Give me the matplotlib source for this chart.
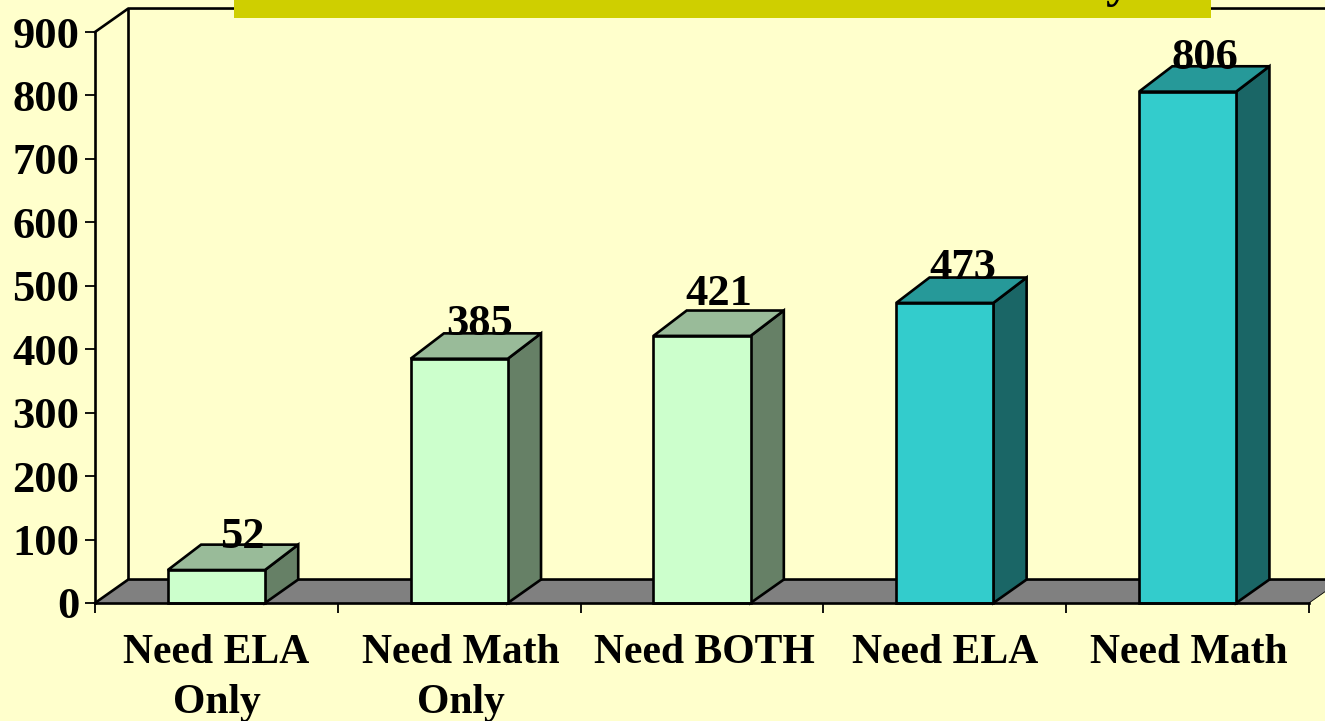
import matplotlib
matplotlib.use("Agg")
import matplotlib.pyplot as plt
from matplotlib.patches import Polygon, Rectangle
from matplotlib.transforms import ScaledTranslation

W, H = 1325, 721
categories = ["Need ELA\nOnly", "Need Math\nOnly", "Need BOTH", "Need ELA", "Need Math"]
values = [52, 385, 421, 473, 806]
yticks = list(range(0, 1000, 100))
label_shift = [0.105, 0.085, 0.07, 0.075, 0.07]
label_lift = [0, 3, 13, 2, 1]
cat_shift_px = [0, 2, 2, 0.5, 1]
front = ["#CCFFCC", "#CCFFCC", "#CCFFCC", "#33CCCC", "#33CCCC"]
top = ["#99BB99", "#99BB99", "#99BB99", "#269999", "#269999"]
side = ["#668066", "#668066", "#668066", "#1A6666", "#1A6666"]
BG, FLOOR, BANNER = "#FFFFCC", "#808080", "#CFCF00"

plt.rcParams["font.family"] = ["Liberation Serif"]
plt.rcParams["font.weight"] = "bold"
fig = plt.figure(figsize=(W / 100, H / 100), dpi=100, facecolor=BG)
ax = fig.add_axes([95 / W, 1 - 603 / H, 1214 / W, 571 / H])
ax.set_xlim(0, 5)
ax.set_ylim(0, 900)
ax.patch.set_visible(False)
for s in ("top", "right"):
    ax.spines[s].set_visible(False)
LW = 1.9
for s in ("left", "bottom"):
    ax.spines[s].set_linewidth(LW)
    ax.spines[s].set_zorder(6)

DX, DY = 0.137, 37.0     # oblique depth of the walls in data units
BAR_DY = 40.0            # oblique depth of the bars in data units

# back wall and floor
ax.plot([0, DX, 6], [900, 900 + DY, 900 + DY], color="k", lw=LW, clip_on=False, zorder=1)
ax.plot([DX, DX], [DY, 900 + DY], color="k", lw=LW, clip_on=False, zorder=1)
ax.add_patch(Polygon([(0, 0), (DX, DY), (6, DY), (6, 0)], closed=True, fc=FLOOR, ec="none",
                     clip_on=False, zorder=1))
ax.add_patch(Polygon([(5, 0), (5 + DX, DY), (6, DY), (6, 0)], closed=True, fc=BG, ec="none",
                     clip_on=False, zorder=1.1))
ax.plot([0, DX, 6], [0, DY, DY], color="k", lw=LW, clip_on=False, zorder=1.2)
ax.plot([5, 5 + DX], [0, DY], color="k", lw=0.6, clip_on=False, zorder=1.2)

# bars
BW = 0.4
for i, v in enumerate(values):
    l, r = i + 0.5 - BW / 2, i + 0.5 + BW / 2
    ax.add_patch(Polygon([(r, 0), (r + DX, DY), (r + DX, v + BAR_DY), (r, v)], closed=True,
                         fc=side[i], ec="k", lw=LW, clip_on=False, zorder=3, joinstyle="miter"))
    ax.add_patch(Polygon([(l, v), (l + DX, v + BAR_DY), (r + DX, v + BAR_DY), (r, v)], closed=True,
                         fc=top[i], ec="k", lw=LW, clip_on=False, zorder=3, joinstyle="miter"))
    ax.add_patch(Rectangle((l, 0), BW, v, fc=front[i], ec="k", lw=LW, clip_on=False, zorder=4))
    ax.text(i + 0.5 + label_shift[i], v + BAR_DY - 5 + label_lift[i], str(v), ha="center",
            va="baseline", fontsize=32, fontweight="bold", color="k", zorder=5, clip_on=False)

# axes and ticks
ax.set_yticks(yticks)
ax.set_xticks(range(6))
ax.set_xticklabels([])
ax.set_xticks([i + 0.5 for i in range(5)], minor=True)
ax.set_xticklabels(categories, minor=True, fontsize=30, fontweight="bold", linespacing=1.42)
ax.tick_params(axis="x", which="major", length=7.5, width=1.3)
ax.tick_params(axis="x", which="minor", length=0, pad=22)
ax.tick_params(axis="y", length=7.5, width=1.3, pad=3.8, labelsize=32)
for t in ax.get_yticklabels():
    t.set_fontweight("bold")
for t, px in zip(ax.get_xticklabels(minor=True), cat_shift_px):
    t.set_transform(t.get_transform() + ScaledTranslation(px / 100, 0, fig.dpi_scale_trans))

# title banner, cropped by the top of the picture
fig.add_artist(Rectangle((234 / W, 1 - 18 / H), 977 / W, 18 / H, transform=fig.transFigure,
                         fc=BANNER, ec="none", zorder=10))
fig.text(1118 / W, 1 + 4 / H, "y", ha="center", va="baseline", fontsize=36, fontweight="bold",
         color="k", zorder=11)

fig.savefig("out.png", dpi=100, facecolor=BG)
